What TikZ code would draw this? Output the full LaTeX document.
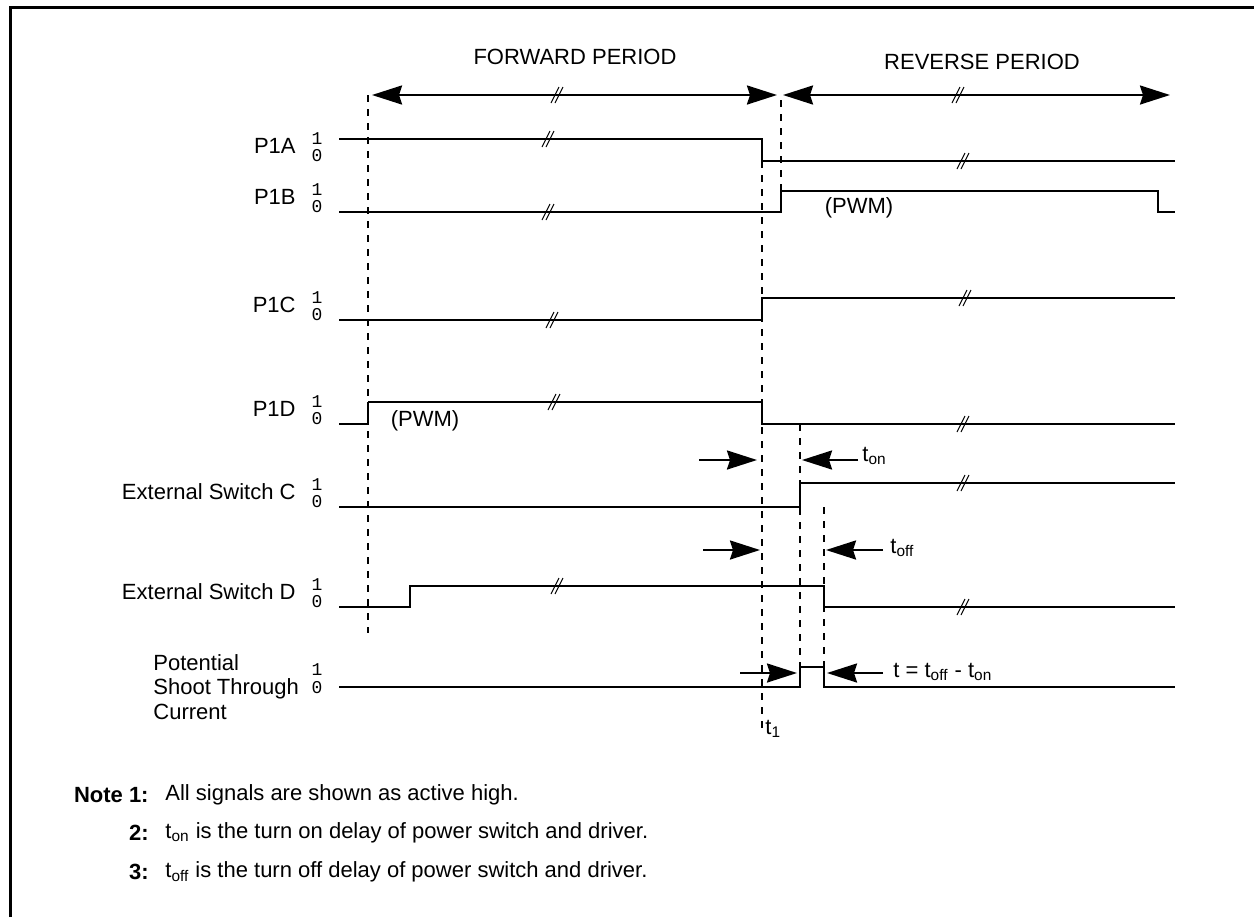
\documentclass[tikz,border=0pt]{standalone}
\usepackage{fontspec}
\setmainfont{Liberation Sans}
\newfontfamily\digfont{Liberation Mono}
\usetikzlibrary{arrows.meta}
\begin{document}
\begin{tikzpicture}[x=0.5pt,y=-0.5pt,
  sig/.style={line width=1.2pt, line join=miter},
  thinsig/.style={line width=0.6pt},
  dsh/.style={line width=1.1pt, dash pattern=on 3.5pt off 3.5pt},
  tipA/.style={-{Stealth[length=15pt,width=9.5pt,inset=1.5pt]}},
  tipB/.style={{Stealth[length=15pt,width=9.5pt,inset=1.5pt]}-{Stealth[length=15pt,width=9.5pt,inset=1.5pt]}},
  dimline/.style={line width=1.2pt},
  lbl/.style={font=\fontsize{11}{13}\selectfont, inner sep=0pt},
  dig/.style={font=\digfont\fontsize{9}{10}\selectfont, inner sep=0pt},
  brk/.pic={\draw[line width=0.5pt] (-6,8) -- (2,-8); \draw[line width=0.5pt] (-2,8) -- (6,-8);}
]
\useasboundingbox (0,0) rectangle (1254,917);
% frame
\draw[line width=1.5pt] (10,917) -- (10,7) -- (1254,7);

% period headings
\node[lbl] (fwd) at (575,57) {FORWARD PERIOD};
\node[lbl] (rev) at (982,62) {REVERSE PERIOD};
\coordinate (fa) at (372,95); \coordinate (fb) at (777,95);
\coordinate (ra) at (783,95); \coordinate (rb) at (1170,95);
\draw[dimline,tipB] (fa) -- (fb);
\draw[dimline,tipB] (ra) -- (rb);
\pic at (557,95) {brk};
\pic at (958,95) {brk};

% signal labels
\foreach \nm/\txt/\lo in {la/P1A/161, lb/P1B/212, lc/P1C/320, ld/P1D/424,
                          le/External Switch C/507, lf/External Switch D/607}{
  \node[lbl,anchor=east] (\nm) at (296,\lo-15) {\txt};
  \node[dig] (\nm1) at (317,\lo-22) {1};
  \node[dig] (\nm0) at (317,\lo-5) {0};
}
\node[lbl,anchor=west,align=left,font=\fontsize{11}{12.25}\selectfont] (lg) at (153,687) {Potential\\Shoot Through\\Current};
\node[dig] (lg1) at (317,670) {1};
\node[dig] (lg0) at (317,688) {0};

% dashed reference lines
\draw[dsh] (368,95) -- (368,633);
\draw[dsh] (762,161) -- (762,735);
\draw[dsh] (781,100) -- (781,191);
\draw[dsh] (800,424) -- (800,667);
\draw[dsh] (824,507) -- (824,667);

% waveforms
\draw[sig] (339,139) -- (762,139) -- (762,161) -- (1175,161);
\pic at (548,139) {brk}; \pic at (963,161) {brk};
\draw[sig] (339,212) -- (781,212) -- (781,191) -- (1158,191) -- (1158,212) -- (1175,212);
\pic at (548,212) {brk};
\node[lbl] (pwm1) at (859,208) {(PWM)};
\draw[sig] (339,320) -- (762,320) -- (762,298) -- (1175,298);
\pic at (552,320) {brk}; \pic at (965,298) {brk};
\draw[sig] (339,424) -- (368,424) -- (368,402);
\draw[thinsig] (368,402) -- (762,402);
\draw[sig] (762,402) -- (762,424) -- (1175,424);
\pic at (554,402) {brk}; \pic at (963,424) {brk};
\node[lbl] (pwm2) at (425,421) {(PWM)};
\draw[sig] (339,507) -- (800,507) -- (800,483) -- (1175,483);
\pic at (963,483) {brk};
\draw[sig] (339,607) -- (410,607) -- (410,586) -- (824,586) -- (824,607) -- (1175,607);
\pic at (557,586) {brk}; \pic at (963,607) {brk};
\draw[sig] (339,687) -- (800,687) -- (800,667) -- (824,667) -- (824,687) -- (1175,687);

% timing arrows
\coordinate (on1) at (699,460); \coordinate (on2) at (757,460);
\coordinate (on3) at (858,460); \coordinate (on4) at (802,460);
\draw[dimline,tipA] (on1) -- (on2);
\draw[dimline,tipA] (on3) -- (on4);
\node[lbl,anchor=west] (ton) at (862,456) {t\textsubscript{on}};
\coordinate (of1) at (703,550); \coordinate (of2) at (760,550);
\coordinate (of3) at (883,550); \coordinate (of4) at (826,550);
\draw[dimline,tipA] (of1) -- (of2);
\draw[dimline,tipA] (of3) -- (of4);
\node[lbl,anchor=west] (toff) at (890,548) {t\textsubscript{off}};
\coordinate (st1) at (740,673); \coordinate (st2) at (797,673);
\coordinate (st3) at (883,673); \coordinate (st4) at (827,673);
\draw[dimline,tipA] (st1) -- (st2);
\draw[dimline,tipA] (st3) -- (st4);
\node[lbl,anchor=west] (teq) at (893,672) {t = t\textsubscript{off} - t\textsubscript{on}};
\node[lbl,anchor=west] (t1) at (765,729) {t\textsubscript{1}};

% notes
\node[lbl,anchor=east,font=\fontsize{11}{13}\selectfont\bfseries] (n1a) at (149,795) {Note 1:};
\node[lbl,anchor=west] (n1b) at (165,795) {All signals are shown as active high.};
\node[lbl,anchor=east,font=\fontsize{11}{13}\selectfont\bfseries] (n2a) at (149,833) {2:};
\node[lbl,anchor=west] (n2b) at (165,833) {t\textsubscript{on} is the turn on delay of power switch and driver.};
\node[lbl,anchor=east,font=\fontsize{11}{13}\selectfont\bfseries] (n3a) at (149,872) {3:};
\node[lbl,anchor=west] (n3b) at (165,872) {t\textsubscript{off} is the turn off delay of power switch and driver.};
\end{tikzpicture}
\end{document}
